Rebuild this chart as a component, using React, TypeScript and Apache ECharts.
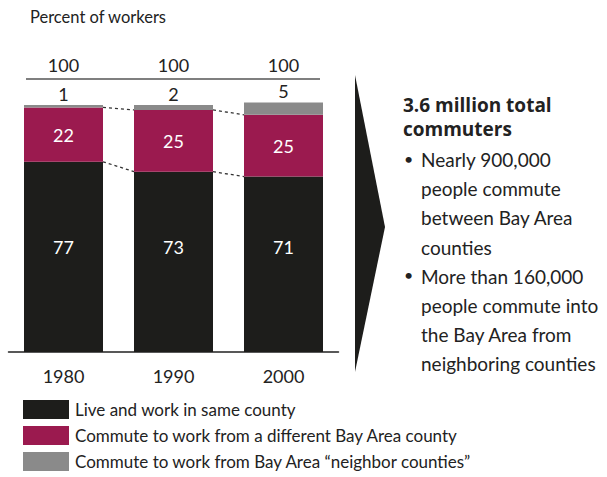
import React, { useEffect, useRef } from "react";
import * as echarts from "echarts";

const years = ["1980", "1990", "2000"];
const totals = [100, 100, 100];
const sameCounty = [77, 73, 71];
const differentCounty = [22, 25, 25];
const neighborCounties = [1, 2, 5];
const seriesNames = [
  "Live and work in same county",
  "Commute to work from a different Bay Area county",
  "Commute to work from Bay Area \u201cneighbor counties\u201d",
];
const sideTitle = ["3.6 million total", "commuters"];
const bulletLines = [
  ["Nearly 900,000", "people commute", "between Bay Area", "counties"],
  ["More than 160,000", "people commute into", "the Bay Area from", "neighboring counties"],
];

const FONT = "Lato, 'Open Sans', sans-serif";
const BLACK = "#1d1d1b";
const MAGENTA = "#9b1a4f";
const GRAY = "#8a8a8a";
const BAR_W = 79;

export default function App() {
  const ref = useRef<HTMLDivElement>(null);
  useEffect(() => {
    const chart = echarts.init(ref.current!, null, { renderer: "svg" });

    const connectorData: number[][] = [];
    const lvl1 = sameCounty;
    const lvl2 = sameCounty.map((v, i) => v + differentCounty[i]);
    for (let i = 0; i < years.length - 1; i++) {
      connectorData.push([i, lvl1[i], lvl1[i + 1]]);
      connectorData.push([i, lvl2[i], lvl2[i + 1]]);
    }

    const sideGraphics: any[] = [];
    sideTitle.forEach((t, k) => {
      sideGraphics.push({
        type: "text",
        left: 403,
        top: 95 + k * 24,
        style: { text: t, font: `bold 19px 'Open Sans', Lato, sans-serif`, fill: "#222" },
      });
    });
    let row = 0;
    bulletLines.forEach((lines) => {
      lines.forEach((t, j) => {
        const y = 150 + row * 29.2;
        if (j === 0) {
          sideGraphics.push({
            type: "text",
            left: 404,
            top: y,
            style: { text: "\u2022", font: `16px ${FONT}`, fill: "#222" },
          });
        }
        sideGraphics.push({
          type: "text",
          left: 421,
          top: y,
          style: { text: t, font: `19px ${FONT}`, fill: "#222" },
        });
        row++;
      });
    });

    chart.setOption({
      animation: false,
      grid: { left: 8.5, width: 330, top: 100, height: 252 },
      legend: {
        orient: "vertical",
        left: 23,
        top: 400,
        padding: 0,
        itemWidth: 46,
        itemHeight: 19,
        itemGap: 7,
        icon: "rect",
        data: seriesNames,
        textStyle: { fontFamily: FONT, fontSize: 17, color: "#222", padding: [0, 0, 0, 1] },
        selectedMode: false,
      },
      xAxis: [
        {
          type: "category",
          data: years,
          axisLine: { show: true, lineStyle: { color: "#222", width: 1.5 } },
          axisTick: { show: false },
          axisLabel: { fontFamily: FONT, fontSize: 18, color: "#222", margin: 15 },
        },
        {
          type: "category",
          position: "top",
          offset: 21,
          data: totals.map(String),
          axisLine: { show: false },
          axisTick: { show: false },
          axisLabel: { fontFamily: FONT, fontSize: 18, color: "#222", margin: 5 },
        },
      ],
      yAxis: { type: "value", min: 0, max: 102, show: false },
      series: [
        {
          name: seriesNames[0],
          type: "bar",
          stack: "a",
          barWidth: BAR_W,
          data: sameCounty,
          itemStyle: { color: BLACK },
          label: {
            show: true,
            position: "insideBottom",
            distance: 96,
            color: "#fff",
            fontFamily: FONT,
            fontSize: 18,
          },
        },
        {
          name: seriesNames[1],
          type: "bar",
          stack: "a",
          barWidth: BAR_W,
          data: differentCounty,
          itemStyle: { color: MAGENTA },
          label: { show: true, position: "inside", color: "#fff", fontFamily: FONT, fontSize: 18 },
        },
        {
          name: seriesNames[2],
          type: "bar",
          stack: "a",
          barWidth: BAR_W,
          data: neighborCounties,
          itemStyle: { color: GRAY },
          label: {
            show: true,
            position: "top",
            distance: 2,
            color: "#222",
            fontFamily: FONT,
            fontSize: 18,
          },
        },
        {
          type: "custom",
          silent: true,
          data: connectorData,
          renderItem: (params: any, api: any) => {
            const i = api.value(0);
            const p1 = api.coord([i, api.value(1)]);
            const p2 = api.coord([i + 1, api.value(2)]);
            return {
              type: "line",
              shape: { x1: p1[0] + BAR_W / 2, y1: p1[1], x2: p2[0] - BAR_W / 2, y2: p2[1] },
              style: { stroke: "#333", lineWidth: 1.3, lineDash: [3, 3] },
            };
          },
          encode: { x: 0, y: 1 },
        },
      ],
      graphic: [
        {
          type: "text",
          left: 30,
          top: 8,
          style: { text: "Percent of workers", font: `16.5px ${FONT}`, fill: "#222" },
        },
        {
          type: "line",
          shape: { x1: 26, y1: 79, x2: 320, y2: 79 },
          style: { stroke: "#555", lineWidth: 1.5 },
        },
        {
          type: "polygon",
          shape: { points: [[355, 75], [385, 227], [355, 372]] },
          style: { fill: BLACK },
        },
        ...sideGraphics,
      ],
    });
    return () => chart.dispose();
  }, []);
  return (
    <div
      ref={ref}
      style={{ position: "absolute", left: 0, top: 0, width: 607, height: 477 }}
    />
  );
}
